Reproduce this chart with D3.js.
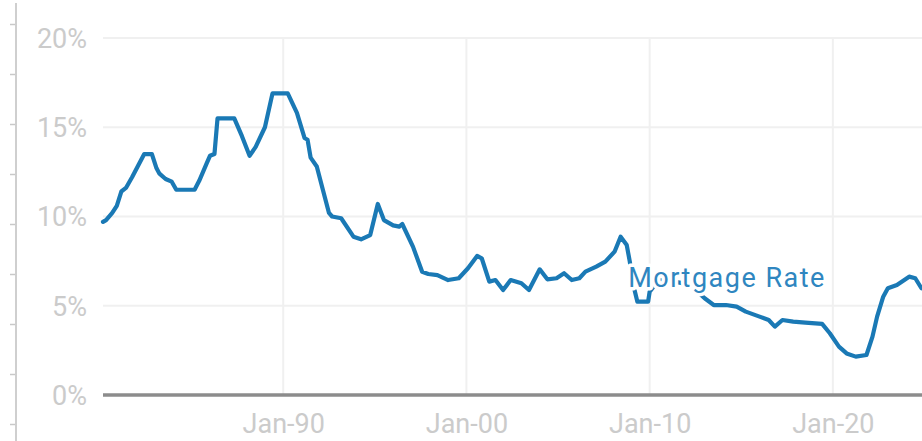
<!DOCTYPE html>
<html>
<head>
<meta charset="utf-8">
<script src="https://cdn.jsdelivr.net/npm/d3@7"></script>
<style>
  html, body { margin: 0; padding: 0; background: #fff; }
  svg { display: block; font-family: Roboto, "Noto Sans", sans-serif; }
</style>
</head>
<body>
<svg id="chart" width="922" height="441"></svg>
<script>
// 30-year mortgage rate (%), sampled at turning points
const months = [
  "1980-03","1980-05","1980-09","1980-12","1981-03","1981-06","1981-10","1982-06","1982-11",
  "1983-02","1983-04","1983-08","1983-12","1984-03","1985-03","1985-06","1985-11","1986-01",
  "1986-04","1986-06","1987-05","1987-10","1988-03","1988-07","1989-01","1989-06","1990-04",
  "1990-10","1991-03","1991-05","1991-07","1991-11","1992-03","1992-07","1992-09","1993-03",
  "1993-11","1994-04","1994-10","1995-03","1995-07","1996-01","1996-05","1996-07","1997-02",
  "1997-08","1997-12","1998-06","1999-01","1999-08","2000-02","2000-08","2000-11","2001-04",
  "2001-08","2002-01","2002-06","2003-01","2003-06","2004-01","2004-06","2004-12","2005-05",
  "2005-10","2006-03","2006-07","2007-02","2007-08","2008-02","2008-06","2008-10","2008-12",
  "2009-02","2009-05","2009-12","2010-01","2010-07","2011-05","2012-03","2013-01","2013-07",
  "2014-03","2014-10","2015-04","2016-01","2016-07","2016-11","2017-04","2017-11","2018-07",
  "2019-06","2019-11","2020-05","2020-10","2021-04","2021-11","2022-03","2022-06","2022-10",
  "2023-01","2023-07","2024-03","2024-07","2024-11"
];
const rates = [
  9.7, 9.8, 10.2, 10.6, 11.4, 11.6, 12.2, 13.5, 13.5,
  12.7, 12.4, 12.1, 11.95, 11.5, 11.5, 12.0, 13.0, 13.4,
  13.5, 15.5, 15.5, 14.5, 13.4, 13.9, 15.0, 16.9, 16.9,
  15.8, 14.4, 14.3, 13.3, 12.8, 11.5, 10.2, 10.0, 9.9,
  8.87, 8.72, 8.96, 10.7, 9.8, 9.5, 9.43, 9.58, 8.3,
  6.9, 6.78, 6.72, 6.44, 6.54, 7.1, 7.79, 7.66, 6.35,
  6.44, 5.88, 6.44, 6.26, 5.88, 7.04, 6.48, 6.54, 6.82,
  6.44, 6.54, 6.91, 7.19, 7.47, 8.03, 8.87, 8.4, 7.47,
  6.26, 5.23, 5.23, 5.79, 6.45, 6.35, 6.2, 5.42, 5.04,
  5.04, 4.95, 4.67, 4.39, 4.2, 3.83, 4.2, 4.11, 4.05,
  3.98, 3.46, 2.71, 2.33, 2.15, 2.24, 3.27, 4.39, 5.51,
  5.98, 6.16, 6.63, 6.54, 5.98
];
const yTicks = [0, 5, 10, 15, 20];
const xTickYears = [1990, 2000, 2010, 2020];
const seriesName = "Mortgage Rate";

const parseMonth = d3.timeParse("%Y-%m");
const data = months.map((m, i) => ({ date: parseMonth(m), value: rates[i] }));

const svg = d3.select("#chart");
const W = 922, H = 441;
const plot = { left: 103, right: 922, top: 38, bottom: 395 };

const x = d3.scaleTime()
  .domain([new Date(1980, 2, 1), new Date(2024, 10, 12)])
  .range([plot.left, plot.right]);
const y = d3.scaleLinear().domain([0, 20]).range([plot.bottom, plot.top]);

// decorative ruler along the left edge
const ruler = d3.scaleLinear().domain([0, 8]).range([24, 424]);
const rulerG = svg.append("g").attr("transform", "translate(16,0)")
  .call(d3.axisLeft(ruler).ticks(9).tickSize(6).tickFormat(""));
rulerG.select(".domain").remove();
rulerG.selectAll(".tick line").attr("stroke", "#c8c8c8").attr("stroke-width", 1.5);
svg.append("line").attr("x1", 16).attr("x2", 16).attr("y1", 3).attr("y2", H)
  .attr("stroke", "#cfcfcf").attr("stroke-width", 2);

// horizontal gridlines
svg.append("g").selectAll("line").data(yTicks.filter(v => v > 0)).join("line")
  .attr("x1", plot.left).attr("x2", plot.right)
  .attr("y1", d => y(d)).attr("y2", d => y(d))
  .attr("stroke", "#f0f0f0").attr("stroke-width", 2);

// vertical gridlines
const xTicks = xTickYears.map(yr => new Date(yr, 0, 1));
svg.append("g").selectAll("line").data(xTicks).join("line")
  .attr("x1", d => x(d)).attr("x2", d => x(d))
  .attr("y1", y(20)).attr("y2", y(0))
  .attr("stroke", "#f0f0f0").attr("stroke-width", 2);

// zero baseline
svg.append("line")
  .attr("x1", plot.left).attr("x2", plot.right)
  .attr("y1", y(0)).attr("y2", y(0))
  .attr("stroke", "#8c8c8c").attr("stroke-width", 3.5);

// y axis labels
const yAxis = d3.axisLeft(y).tickValues(yTicks).tickFormat(d => d + "%").tickSize(0).tickPadding(0);
const yG = svg.append("g").attr("transform", "translate(87,0)").call(yAxis);
yG.select(".domain").remove();
yG.selectAll("text")
  .attr("font-family", "Roboto, sans-serif")
  .attr("font-size", 27).attr("fill", "#cbcbcb").attr("dy", "0.35em");

// x axis labels
const xAxis = d3.axisBottom(x).tickValues(xTicks).tickFormat(d3.timeFormat("Jan-%y")).tickSize(0).tickPadding(0);
const xG = svg.append("g").attr("transform", `translate(0,${y(0)})`).call(xAxis);
xG.select(".domain").remove();
xG.selectAll("text")
  .attr("font-family", "Roboto, sans-serif")
  .attr("font-size", 27).attr("fill", "#cbcbcb").attr("dy", null).attr("y", 38);

// rate line
const line = d3.line().x(d => x(d.date)).y(d => y(d.value));
svg.append("path").datum(data)
  .attr("d", line)
  .attr("fill", "none")
  .attr("stroke", "#1a79b5")
  .attr("stroke-width", 4.2)
  .attr("stroke-linejoin", "round")
  .attr("stroke-linecap", "round");

// series label with white halo
svg.append("text")
  .attr("x", x(parseMonth("2008-11")))
  .attr("y", y(6.05))
  .attr("font-family", "Roboto, sans-serif")
  .attr("font-size", 27)
  .attr("letter-spacing", 1.5)
  .attr("fill", "#2f86c0")
  .attr("stroke", "#fff")
  .attr("stroke-width", 7)
  .attr("stroke-linejoin", "round")
  .attr("paint-order", "stroke")
  .text(seriesName);
</script>
</body>
</html>
